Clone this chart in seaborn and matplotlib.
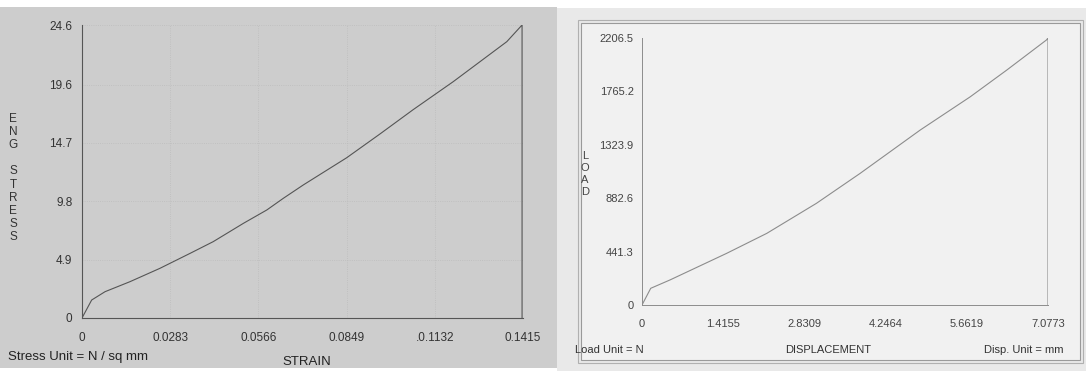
import matplotlib
matplotlib.use("Agg")
import matplotlib.pyplot as plt
from matplotlib.patches import Rectangle
import seaborn as sns

# Curva tensión-deformación (panel izquierdo)
strain = [0, 0.0031, 0.0074, 0.0154, 0.0250, 0.0347, 0.0421, 0.0518, 0.0593,
          0.0646, 0.0710, 0.0849, 0.0956, 0.1063, 0.1191, 0.1277, 0.1363,
          0.1405, 0.1412, 0.1412]
stress = [0, 1.51, 2.21, 3.05, 4.17, 5.43, 6.41, 7.95, 9.07,
          10.05, 11.17, 13.45, 15.45, 17.5, 19.84, 21.52, 23.2,
          24.4, 24.6, 0]
strain_ticks = [0, 0.0283, 0.0566, 0.0849, 0.1132, 0.1415]
strain_labels = ["0", "0.0283", "0.0566", "0.0849", ".0.1132", "0.1415"]
stress_ticks = [0, 4.9, 9.8, 14.7, 19.6, 24.6]

# Curva carga-desplazamiento (panel derecho)
disp = [0, 0.152, 0.488, 1.476, 2.175, 3.04, 3.80, 4.85, 5.72, 6.36, 7.05,
        7.0773, 7.0773]
load = [0, 138, 207, 427, 592, 840, 1087, 1446, 1720, 1942, 2190,
        2206.5, 0]
disp_ticks = [0, 1.4155, 2.8309, 4.2464, 5.6619, 7.0773]
load_ticks = [0, 441.3, 882.6, 1323.9, 1765.2, 2206.5]

sns.set_style("white")
plt.rcParams["font.family"] = ["Liberation Sans", "DejaVu Sans"]

W, H = 1086, 371
fig = plt.figure(figsize=(W / 100, H / 100), dpi=100)
fig.patch.set_facecolor("white")


def px_rect(x0, y0, x1, y1, **kw):
    """Rectángulo en píxeles (origen arriba a la izquierda)."""
    r = Rectangle((x0 / W, 1 - y1 / H), (x1 - x0) / W, (y1 - y0) / H,
                  transform=fig.transFigure, zorder=-5, **kw)
    fig.patches.append(r)


# fondos de las dos hojas escaneadas
px_rect(0, 7, 557, 368, facecolor="#cdcdcd", edgecolor="none")
px_rect(557, 8, 1086, 371, facecolor="#e9e9e9", edgecolor="none")
px_rect(581, 23, 1080, 360, facecolor="#f1f1f1", edgecolor="#9a9a9a",
        linewidth=0.8)
px_rect(578, 20, 1083, 363, facecolor="none", edgecolor="#b0b0b0",
        linewidth=0.8)


def px_text(x, y, s, **kw):
    fig.text(x / W, 1 - y / H, s, **kw)


# ── panel izquierdo ──
ax1 = fig.add_axes([82 / W, (H - 318) / H, 441 / W, 293 / H])
ax1.set_facecolor("none")
sns.lineplot(x=strain, y=stress, ax=ax1, sort=False, estimator=None,
             color="#555555", linewidth=0.8)
ax1.set_xlim(0, 0.1415)
ax1.set_ylim(0, 24.6)
ax1.set_xticks(strain_ticks)
ax1.set_xticklabels(strain_labels)
ax1.set_yticks(stress_ticks)
ax1.set_yticklabels([f"{v:g}" for v in stress_ticks])
ax1.tick_params(axis="both", labelsize=8.5, colors="#333333", length=0)
ax1.tick_params(axis="x", pad=10)
ax1.tick_params(axis="y", pad=7)
ax1.grid(True, linestyle=":", color="#bcbcbc", linewidth=0.6)
for side in ["top", "right"]:
    ax1.spines[side].set_visible(False)
for side in ["left", "bottom"]:
    ax1.spines[side].set_color("#555555")
    ax1.spines[side].set_linewidth(0.8)

px_text(13, 178, "E\nN\nG\n\nS\nT\nR\nE\nS\nS", fontsize=8.5, color="#333333",
        ha="center", va="center", linespacing=1.12)
px_text(8, 357, "Stress Unit = N / sq mm", fontsize=9.5, color="#222222",
        ha="left", va="center")
px_text(282, 362, "STRAIN", fontsize=9.5, color="#222222", ha="left",
        va="center")

# ── panel derecho ──
ax2 = fig.add_axes([642 / W, (H - 305) / H, 406 / W, 267 / H])
ax2.set_facecolor("none")
sns.lineplot(x=disp, y=load, ax=ax2, sort=False, estimator=None,
             color="#8c8c8c", linewidth=0.8)
ax2.set_xlim(0, 7.0773)
ax2.set_ylim(0, 2206.5)
ax2.set_xticks(disp_ticks)
ax2.set_xticklabels([f"{v:g}" for v in disp_ticks])
ax2.set_yticks(load_ticks)
ax2.set_yticklabels([f"{v:g}" for v in load_ticks])
ax2.tick_params(axis="both", labelsize=8, colors="#444444")
ax2.tick_params(axis="x", length=0, pad=10)
ax2.tick_params(axis="y", length=3, width=0.6, color="#888888", pad=3)
for side in ["top", "right"]:
    ax2.spines[side].set_visible(False)
for side in ["left", "bottom"]:
    ax2.spines[side].set_color("#8c8c8c")
    ax2.spines[side].set_linewidth(0.7)

px_text(585, 174, "L\nO\nA\nD", fontsize=8, color="#444444", ha="center",
        va="center", linespacing=1.25)
px_text(575, 350, "Load Unit = N", fontsize=8, color="#333333", ha="left",
        va="center")
px_text(828, 350, "DISPLACEMENT", fontsize=8, color="#333333", ha="center",
        va="center")
px_text(1063, 350, "Disp. Unit = mm", fontsize=8, color="#333333",
        ha="right", va="center")

fig.savefig("out.png", dpi=100)
